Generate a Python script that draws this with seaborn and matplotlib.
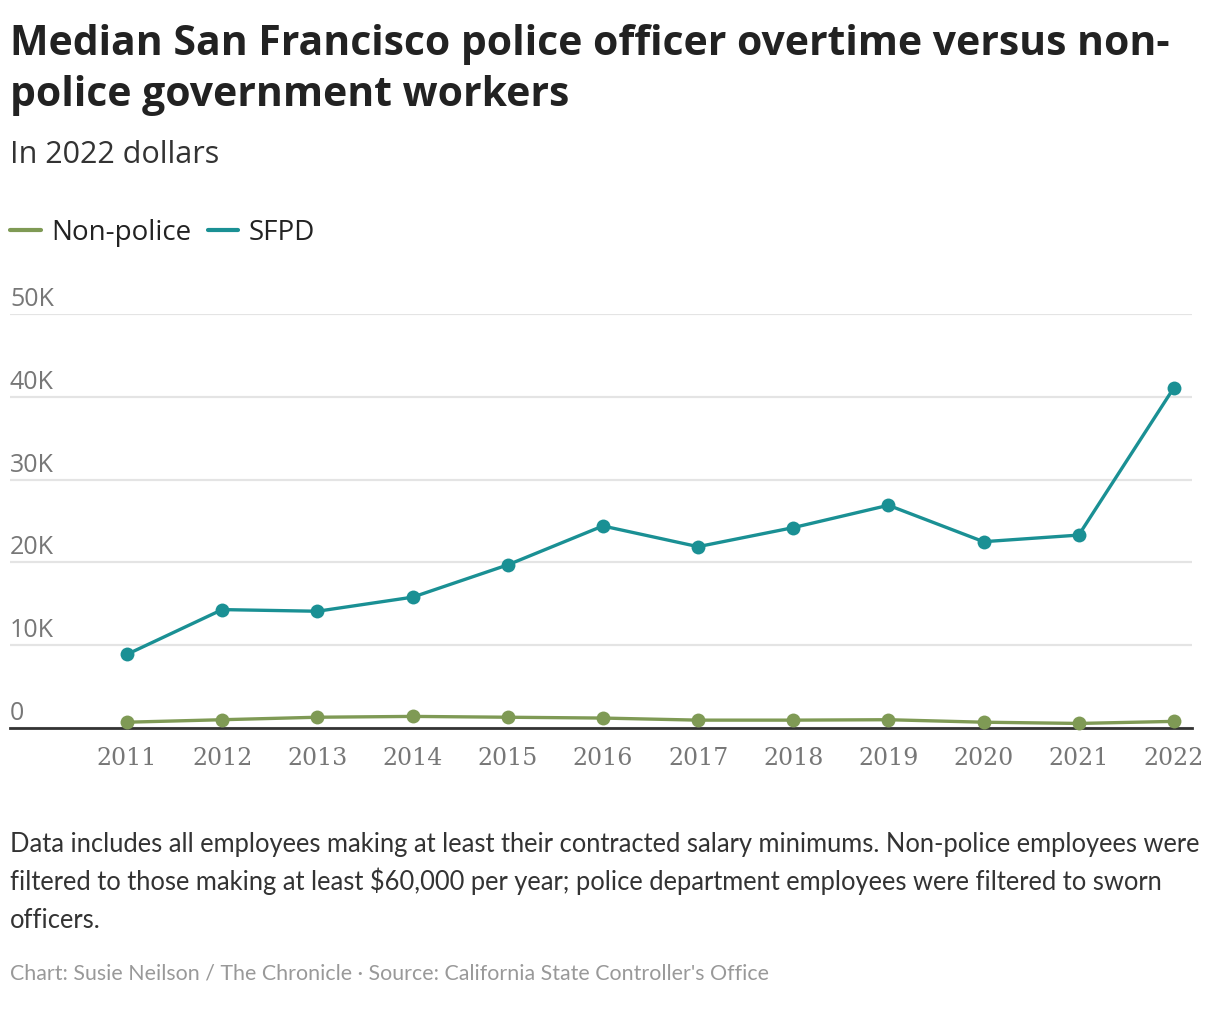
import matplotlib
matplotlib.use("Agg")
import matplotlib.pyplot as plt
from matplotlib.lines import Line2D
from matplotlib.transforms import ScaledTranslation
import seaborn as sns
import pandas as pd

years = [2011, 2012, 2013, 2014, 2015, 2016, 2017, 2018, 2019, 2020, 2021, 2022]
non_police = [700, 1000, 1300, 1400, 1300, 1200, 950, 950, 1000, 700, 550, 800]
sfpd = [8900, 14300, 14100, 15800, 19700, 24400, 21900, 24200, 26900, 22500, 23300, 41100]
series_names = ["Non-police", "SFPD"]
y_ticks = [0, 10000, 20000, 30000, 40000, 50000]
y_tick_labels = ["0", "10K", "20K", "30K", "40K", "50K"]
colors = {"Non-police": "#7f9a55", "SFPD": "#1a9094"}

df = pd.DataFrame({
    "year": years * 2,
    "value": non_police + sfpd,
    "series": [series_names[0]] * len(years) + [series_names[1]] * len(years),
})

sns.set_theme(style="white")
plt.rcParams["font.family"] = ["Lato", "DejaVu Sans"]

W, H = 1220, 1010
fig = plt.figure(figsize=(W / 100, H / 100), dpi=100)

def fx(x):
    return x / W

def fy(y):
    return 1 - y / H

ax_left, ax_right, ax_bottom, ax_top = 10, 1192, 728, 314
ax = fig.add_axes([fx(ax_left), fy(ax_bottom), (ax_right - ax_left) / W, (ax_bottom - ax_top) / H])

sns.lineplot(data=df, x="year", y="value", hue="series", palette=colors,
             marker="o", markersize=10, markeredgewidth=0, linewidth=2.4,
             ax=ax, legend=False, clip_on=False, zorder=5)

ax.set_xlim(2009.77, 2022.19)
ax.set_ylim(0, 50000)
ax.set_xticks(years)
ax.set_xticklabels([str(y) for y in years])
ax.set_yticks(y_ticks)
ax.set_yticklabels(y_tick_labels)
ax.set_xlabel("")
ax.set_ylabel("")

for s in ["top", "right", "left"]:
    ax.spines[s].set_visible(False)
ax.spines["bottom"].set_color("#333333")
ax.spines["bottom"].set_linewidth(2)
ax.spines["bottom"].set_zorder(3)

ax.yaxis.grid(True, color="#e4e4e4", linewidth=1.6)
ax.xaxis.grid(False)
ax.set_axisbelow(True)

ax.tick_params(axis="x", length=0, pad=14, labelsize=17, labelcolor="#777777")
ax.tick_params(axis="y", length=0, pad=0, labelsize=18, labelcolor="#777777")
for lab in ax.get_xticklabels():
    lab.set_fontfamily(["DejaVu Serif"])
for tick in ax.yaxis.get_major_ticks():
    lab = tick.label1
    lab.set_horizontalalignment("left")
    lab.set_verticalalignment("bottom")
    lab.set_fontfamily(["Open Sans", "DejaVu Sans"])
    lab.set_transform(lab.get_transform() + ScaledTranslation(0, 1.5 / 72, fig.dpi_scale_trans))

# Title and subtitle
title_font = ["Open Sans", "DejaVu Sans"]
fig.text(fx(10), fy(55), "Median San Francisco police officer overtime versus non-",
         fontsize=29.4, fontweight="bold", color="#222222", va="baseline", ha="left", family=title_font)
fig.text(fx(10), fy(106), "police government workers",
         fontsize=29.4, fontweight="bold", color="#222222", va="baseline", ha="left", family=title_font)
fig.text(fx(10), fy(163), "In 2022 dollars", fontsize=22, color="#333333", va="baseline", ha="left",
         family=title_font)

# Legend
handles = [Line2D([0], [0], color=colors[n], linewidth=3) for n in series_names]
fig.legend(handles, series_names, loc="center left", bbox_to_anchor=(fx(10), fy(233)),
           borderaxespad=0, borderpad=0, ncol=2, frameon=False,
           handlelength=1.1, handletextpad=0.38, columnspacing=0.6, labelcolor="#222222",
           prop={"family": title_font, "size": 20})

# Notes
notes = [
    "Data includes all employees making at least their contracted salary minimums. Non-police employees were",
    "filtered to those making at least \\$60,000 per year; police department employees were filtered to sworn",
    "officers.",
]
for i, line in enumerate(notes):
    fig.text(fx(10), fy(852 + 38 * i), line, fontsize=18.4, color="#333333", va="baseline", ha="left")
fig.text(fx(10), fy(979), "Chart: Susie Neilson / The Chronicle \u00b7 Source: California State Controller's Office",
         fontsize=15.4, color="#999999", va="baseline", ha="left")

fig.savefig("out.png", dpi=100)
